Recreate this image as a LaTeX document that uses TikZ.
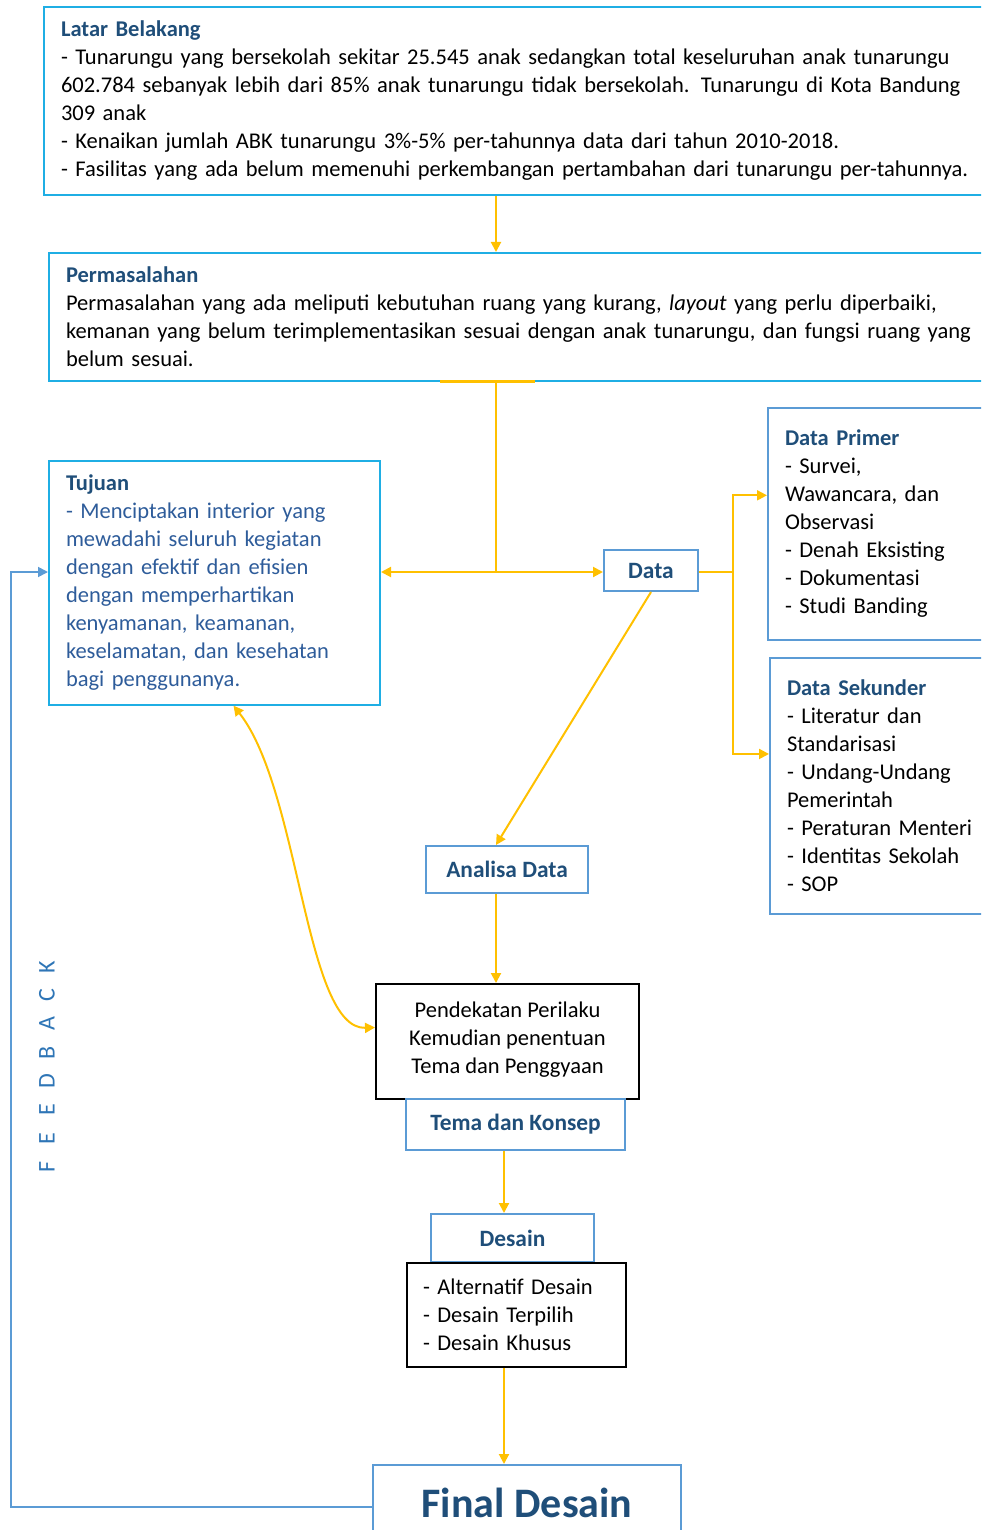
\documentclass[tikz,border=0pt]{standalone}
\usepackage{fontspec}
\setmainfont{Carlito}
\usetikzlibrary{arrows.meta,positioning,calc}
\definecolor{flowyellow}{HTML}{FFC000}
\definecolor{cyanline}{HTML}{1FAEE4}
\definecolor{boxblue}{HTML}{5B9BD5}
\definecolor{titleblue}{HTML}{1F4E79}
\definecolor{bodyblue}{HTML}{2E5C9A}
\definecolor{feedblue}{HTML}{2E75B6}
\newcommand{\boxtitle}[1]{{\bfseries\color{titleblue}#1}}
\tikzset{
    bodytext/.style = {font=\fontsize{11.25}{14}\selectfont},
    cyanbox/.style = {draw=cyanline, line width=1pt, bodytext, anchor=north west,
        align=left, inner xsep=8.5pt, inner ysep=7pt},
    bluebox/.style = {draw=boxblue, line width=1pt, bodytext, anchor=north west,
        align=left, inner xsep=8.5pt, inner ysep=11pt},
    labelbox/.style = {draw=boxblue, line width=1pt, font={\fontsize{11.7}{14}\selectfont\bfseries},
        text=titleblue, inner sep=0pt},
    blackbox/.style = {draw=black, line width=1pt, bodytext},
    flowline/.style = {draw=flowyellow, line width=1pt},
    flowarrow/.style = {flowline, -{Triangle[length=5pt,width=5pt]}},
    feedline/.style = {draw=boxblue, line width=0.9pt, -{Triangle[length=5pt,width=5pt]}}
}

\begin{document}
\begin{tikzpicture}[x=0.5pt,y=-0.5pt]
    \useasboundingbox (0,0) rectangle (981,1530);
    \clip (0,0) rectangle (981,1530);

    % upper boxes
    \node[cyanbox, text width=480pt] (latar) at (43,6) {\boxtitle{Latar Belakang}\\
        - Tunarungu yang bersekolah sekitar 25.545 anak sedangkan total keseluruhan anak tunarungu\\
        602.784 sebanyak lebih dari 85\% anak tunarungu tidak bersekolah. Tunarungu di Kota Bandung\\
        309 anak\\
        - Kenaikan jumlah ABK tunarungu 3\%-5\% per-tahunnya data dari tahun 2010-2018.\\
        - Fasilitas yang ada belum memenuhi perkembangan pertambahan dari tunarungu per-tahunnya.};
    \node[cyanbox, text width=480pt] (masalah) at (48,252) {\boxtitle{Permasalahan}\\
        Permasalahan yang ada meliputi kebutuhan ruang yang kurang, \textit{layout} yang perlu diperbaiki,\\
        kemanan yang belum terimplementasikan sesuai dengan anak tunarungu, dan fungsi ruang yang\\
        belum sesuai.};
    \node[cyanbox, text width=148.5pt, text=bodyblue] (tujuan) at (48,460) {\boxtitle{Tujuan}\\
        - Menciptakan interior yang\\
        mewadahi seluruh kegiatan\\
        dengan efektif dan efisien\\
        dengan memperhartikan\\
        kenyamanan, keamanan,\\
        keselamatan, dan kesehatan\\
        bagi penggunanya.};

    % data boxes
    \node[labelbox, minimum width=47pt, minimum height=20.5pt] (data) at (651,570.5) {Data};
    \node[bluebox, text width=150pt] (primer) at (767,407) {\boxtitle{Data Primer}\\
        - Survei,\\
        Wawancara, dan\\
        Observasi\\
        - Denah Eksisting\\
        - Dokumentasi\\
        - Studi Banding};
    \node[bluebox, text width=150pt] (sekunder) at (769,657) {\boxtitle{Data Sekunder}\\
        - Literatur dan\\
        Standarisasi\\
        - Undang-Undang\\
        Pemerintah\\
        - Peraturan Menteri\\
        - Identitas Sekolah\\
        - SOP};

    % lower chain
    \node[labelbox, minimum width=81pt, minimum height=23.5pt] (analisa) at (507,869.5) {Analisa Data};
    \node[blackbox, align=center, minimum width=131.5pt, minimum height=57.5pt] (pendekatan) at (507.5,1041.5)
        {Pendekatan Perilaku\\ Kemudian penentuan\\ Tema dan Penggyaan\\[-10pt]};
    \node[labelbox, minimum width=109.5pt, minimum height=25.5pt] (tema) at (515.5,1124.5) {Tema dan Konsep};
    \node[labelbox, minimum width=81.5pt, minimum height=24pt] (desain) at (512.5,1238) {Desain};
    \node[blackbox, anchor=north west, align=left, text width=93.5pt, inner xsep=8pt, inner ysep=7pt,
        minimum height=52pt] (pilihan) at (406,1262)
        {- Alternatif Desain\\ - Desain Terpilih\\ - Desain Khusus};
    \node[labelbox, font=\fontsize{21}{24}\selectfont\bfseries, minimum width=154pt, minimum height=38pt,
        anchor=north west] (final) at (372,1464) {Final Desain};

    % feedback label
    \foreach \ch [count=\i] in {F,E,E,D,B,A,C,K}
        \node[rotate=90, text=feedblue, font=\fontsize{12}{14}\selectfont, inner sep=0pt]
            (fb\i) at (47,1167-28.6*\i+28.6) {\ch};

    % connectors
    \coordinate (junction) at (496,572);
    \coordinate (split) at (733,572);
    \coordinate (spine) at (504,0);
    \coordinate (fbcorner) at (11,1507);
    \coordinate (lhs) at (440,0);
    \coordinate (rhs) at (535,0);

    \draw[flowarrow] (latar.south -| junction) -- (masalah.north -| junction);
    \draw[flowline, line width=1.5pt] (masalah.south -| lhs) -- (masalah.south -| rhs);
    \draw[flowline] (masalah.south -| junction) -- (junction);
    \draw[flowarrow] (junction) -- (tujuan.east |- junction);
    \draw[flowarrow] (junction) -- (data.west |- junction);
    \draw[flowline] (data.east |- junction) -- (split);
    \draw[flowarrow] (split) |- ([yshift=14.25pt]primer.west);
    \draw[flowarrow] (split) |- ([yshift=16pt]sekunder.west);
    \draw[flowarrow] (data.south) -- (analisa.north -| junction);
    \draw[flowarrow] (analisa.south -| junction) -- (pendekatan.north -| junction);
    \draw[flowarrow] (tema.south -| spine) -- (desain.north -| spine);
    \draw[flowarrow] (pilihan.south -| spine) -- (final.north -| spine);
    \draw[flowarrow, {Triangle[length=5pt,width=5pt]}-{Triangle[length=5pt,width=5pt]}]
        ([xshift=9.5pt]tujuan.south) .. controls (300,790) and (305,1030) .. ([yshift=7pt]pendekatan.west);
    \draw[feedline] (final.west |- fbcorner) -- (fbcorner) |- (tujuan.west |- junction);
\end{tikzpicture}
\end{document}
